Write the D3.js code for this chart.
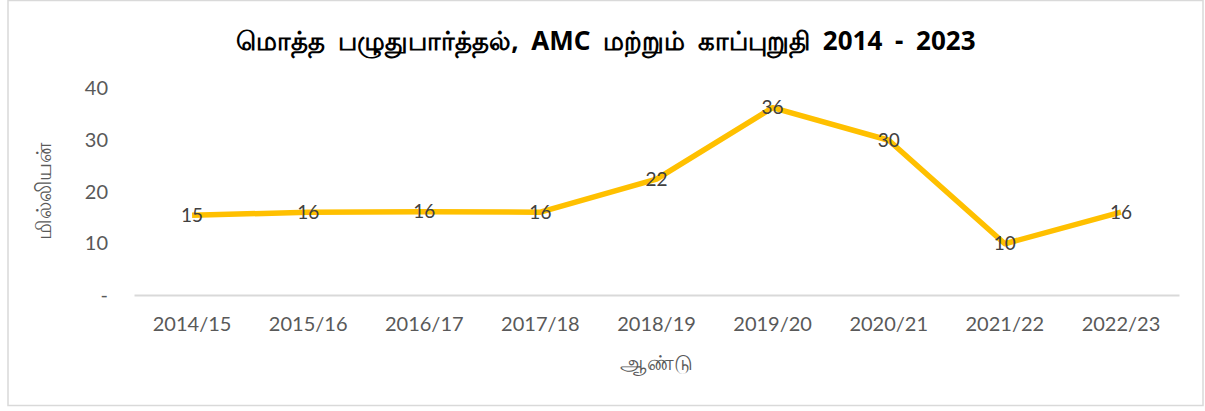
<!DOCTYPE html>
<meta charset="utf-8">
<script src="https://d3js.org/d3.v7.min.js"></script>
<style>
  body { margin: 0; background: #fff; }
</style>
<div id="chart"></div>
<script>
// data
var years = ["2014/15", "2015/16", "2016/17", "2017/18", "2018/19", "2019/20", "2020/21", "2021/22", "2022/23"];
var values = [15.4, 16.0, 16.1, 16.0, 22.4, 36.2, 29.9, 9.9, 16.0];
var yTicks = [0, 10, 20, 30, 40];

var titleText = "மொத்த பழுதுபார்த்தல், AMC மற்றும் காப்புறுதி 2014 - 2023";
var yLabel = "மில்லியன்";
var xLabel = "ஆண்டு";

var W = 1205, H = 411;
var margin = {top: 88, right: 26, bottom: 116, left: 134};
var width = W - margin.left - margin.right,
    height = H - margin.top - margin.bottom;

var font = "Lato, 'Open Sans', sans-serif";

var svg = d3.select("#chart").append("svg")
  .attr("width", W).attr("height", H);

// chart border
svg.append("rect")
  .attr("x", 8).attr("y", 0.5)
  .attr("width", 1195).attr("height", 405)
  .attr("fill", "none").attr("stroke", "#d9d9d9").attr("stroke-width", 1.5);

var g = svg.append("g")
  .attr("transform", "translate(" + margin.left + "," + margin.top + ")");

var x = d3.scaleBand().domain(years).range([0, width]);
var y = d3.scaleLinear().domain([0, 40]).range([height, 0]);

// y axis labels (no line)
g.selectAll(".ytick")
  .data(yTicks).enter().append("text")
    .attr("x", -26)
    .attr("y", function(d) { return y(d); })
    .attr("dy", "0.35em")
    .attr("text-anchor", "end")
    .style("font-family", font)
    .style("font-size", "20px")
    .style("fill", "#595959")
    .text(function(d) { return d === 0 ? "-" : d; });

// x axis
var xAxis = g.append("g")
  .attr("transform", "translate(0," + height + ")")
  .call(d3.axisBottom(x).tickSize(0).tickPadding(22));
xAxis.select(".domain").attr("stroke", "#d9d9d9").attr("stroke-width", 2);
xAxis.selectAll("text")
  .style("font-family", font)
  .style("font-size", "20px")
  .style("fill", "#595959");

// line
var line = d3.line()
  .x(function(d, i) { return x(years[i]) + x.bandwidth() / 2; })
  .y(function(d) { return y(d); });

g.append("path")
  .datum(values)
  .attr("d", line)
  .attr("fill", "none")
  .attr("stroke", "#ffc000")
  .attr("stroke-width", 5.5)
  .attr("stroke-linejoin", "round");

// data labels
g.selectAll(".lbl")
  .data(values).enter().append("text")
    .attr("x", function(d, i) { return x(years[i]) + x.bandwidth() / 2; })
    .attr("y", function(d) { return y(d); })
    .attr("dy", "0.35em")
    .attr("text-anchor", "middle")
    .style("font-family", font)
    .style("font-size", "19px")
    .style("fill", "#404040")
    .text(function(d) { return Math.round(d); });

// title
svg.append("text")
  .attr("x", 606).attr("y", 50)
  .attr("text-anchor", "middle")
  .style("font-family", "'Noto Sans', 'Liberation Sans', sans-serif")
  .style("font-size", "26px")
  .style("font-weight", "bold")
  .style("word-spacing", "6px")
  .style("fill", "#000")
  .text(titleText);

// axis titles
svg.append("text")
  .attr("transform", "translate(44," + (margin.top + height / 2) + ") rotate(-90)")
  .attr("text-anchor", "middle")
  .attr("dy", "0.35em")
  .style("font-family", "'Noto Sans', sans-serif")
  .style("font-size", "21px")
  .style("fill", "#595959")
  .text(yLabel);

svg.append("text")
  .attr("x", margin.left + width / 2).attr("y", 370)
  .attr("text-anchor", "middle")
  .style("font-family", "'Noto Sans', sans-serif")
  .style("font-size", "21px")
  .style("fill", "#595959")
  .text(xLabel);
</script>
